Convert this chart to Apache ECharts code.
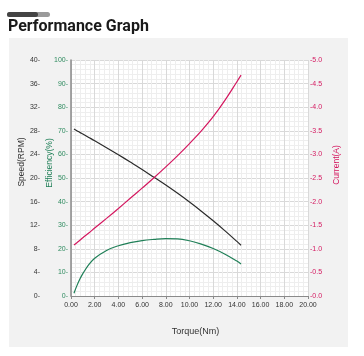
<!DOCTYPE html>
<html>
<head>
<meta charset="utf-8">
<script src="https://cdn.jsdelivr.net/npm/echarts@6/dist/echarts.min.js"></script>
<style>
html,body{margin:0;padding:0;background:#fff;}
#chart{width:364px;height:356px;}
</style>
</head>
<body>
<div id="chart"></div>
<script>
// Torque sample points (Nm)
var torque = [0.25, 0.5, 0.75, 1, 1.5, 2, 3, 4, 5, 6, 7, 8, 9, 10, 11, 12, 13, 14, 14.35];
// Speed (RPM)
var speed = [28.3, 28.02, 27.73, 27.45, 26.88, 26.31, 25.14, 23.94, 22.71, 21.45, 20.12, 18.8, 17.4, 15.93, 14.38, 12.75, 11.04, 9.25, 8.6];
// Current (A)
var current = [1.08, 1.13, 1.18, 1.235, 1.335, 1.44, 1.645, 1.855, 2.07, 2.285, 2.505, 2.735, 2.975, 3.23, 3.50, 3.80, 4.15, 4.54, 4.68];
// Efficiency (%)
var efficiency = [1.2, 4.4, 7.2, 9.5, 13.3, 16.0, 19.3, 21.3, 22.6, 23.5, 24.0, 24.3, 24.2, 23.4, 22.0, 20.1, 17.7, 14.8, 13.6];

var title = 'Performance Graph';
var xName = 'Torque(Nm)';
var speedName = 'Speed(RPM)';
var effName = 'Efficiency(%)';
var curName = 'Current(A)';

function pairs(ys){ return torque.map(function(t,i){ return [t, ys[i]]; }); }

var cBlack = '#2b2b2b', cGreen = '#1f7f57', cRed = '#d4175f';
var fontFam = '"Liberation Sans", Arial, sans-serif';

function vName(text, x, y, color){
  return {type:'text', x:x, y:y, rotation:Math.PI/2, z:5,
    style:{text:text, font:'8.5px "Liberation Sans", Arial, sans-serif', fill:color,
      textAlign:'center', textVerticalAlign:'middle'}};
}

var chart = echarts.init(document.getElementById('chart'), null, {renderer:'canvas'});
chart.setOption({
  animation: false,
  backgroundColor: '#ffffff',
  title: {
    text: title, left: 8, top: 19, padding: 0,
    textStyle: {fontFamily: 'Roboto, sans-serif', fontWeight: 'bold', fontSize: 16, color: '#1a1a1a'}
  },
  graphic: [
    {type:'rect', z:-10, shape:{x:9, y:38, width:339, height:309}, style:{fill:'#f2f2f2'}},
    {type:'rect', z:1, shape:{x:7, y:12, width:43, height:5, r:2.5}, style:{fill:'#9a9a9a'}},
    {type:'rect', z:2, shape:{x:7, y:12, width:31, height:5, r:2.5}, style:{fill:'#444444'}},
    vName(speedName, 22, 162, '#333'),
    vName(effName, 50, 163, cGreen),
    vName(curName, 337, 165, cRed)
  ],
  grid: {left:71, right:56, top:60, bottom:60, show:true, backgroundColor:'#ffffff', borderWidth:0},
  xAxis: {
    type:'value', min:0, max:20, interval:2,
    name: xName, nameLocation:'middle', nameGap:31,
    nameTextStyle:{fontFamily:fontFam, fontSize:9, color:'#333', padding:[0,0,0,12]},
    axisLine:{show:true, lineStyle:{color:'#8a8a8a', width:1}},
    axisTick:{show:true, length:3, lineStyle:{color:'#8a8a8a'}},
    axisLabel:{fontFamily:fontFam, fontSize:7, color:'#333', margin:6,
      formatter:function(v){return v.toFixed(2);}},
    splitLine:{show:true, lineStyle:{color:'#d9d9d9', width:1}},
    minorTick:{show:false, splitNumber:5},
    minorSplitLine:{show:true, lineStyle:{color:'#eeeeee', width:1}}
  },
  yAxis: [
    {
      type:'value', min:0, max:100, interval:10, position:'left',
      axisLine:{show:true, lineStyle:{color:'#8a8a8a', width:1.5}},
      axisTick:{show:false},
      axisLabel:{fontFamily:fontFam, fontSize:7, color:'#2e8b5f', margin:3,
        formatter:function(v){return v+'-';}},
      splitLine:{show:true, lineStyle:{color:'#d9d9d9', width:1}},
      minorTick:{show:false, splitNumber:5},
      minorSplitLine:{show:true, lineStyle:{color:'#eeeeee', width:1}}
    },
    {
      type:'value', min:0, max:40, interval:4, position:'left', offset:28,
      axisLine:{show:false}, axisTick:{show:false},
      axisLabel:{fontFamily:fontFam, fontSize:7, color:'#333', margin:3,
        formatter:function(v){return v+'-';}},
      splitLine:{show:false}
    },
    {
      type:'value', min:0, max:5, interval:0.5, position:'right',
      axisLine:{show:false}, axisTick:{show:false},
      axisLabel:{fontFamily:fontFam, fontSize:7, color:cRed, margin:2,
        formatter:function(v){return '-'+v.toFixed(1);}},
      splitLine:{show:false}
    }
  ],
  series: [
    {type:'line', name:speedName, yAxisIndex:1, data:pairs(speed), smooth:0.4, showSymbol:false,
      lineStyle:{color:cBlack, width:1.2}},
    {type:'line', name:curName, yAxisIndex:2, data:pairs(current), smooth:0.4, showSymbol:false,
      lineStyle:{color:cRed, width:1.2}},
    {type:'line', name:effName, yAxisIndex:0, data:pairs(efficiency), smooth:0.4, showSymbol:false,
      lineStyle:{color:cGreen, width:1.2}}
  ]
});
</script>
</body>
</html>
